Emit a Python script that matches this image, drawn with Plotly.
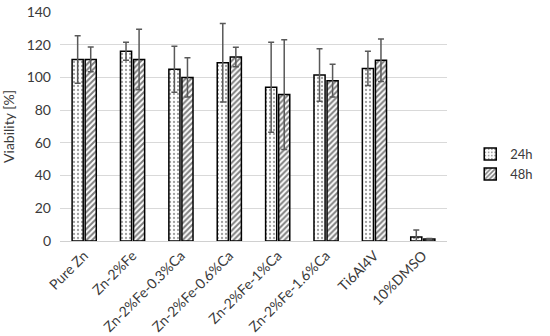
import plotly.graph_objects as go

categories = ["Pure Zn", "Zn-2%Fe", "Zn-2%Fe-0.3%Ca", "Zn-2%Fe-0.6%Ca",
              "Zn-2%Fe-1%Ca", "Zn-2%Fe-1.6%Ca", "Ti6Al4V", "10%DMSO"]
v24 = [111, 116, 105, 109, 94, 101.5, 105.5, 2.5]
e24 = [14.5, 5.5, 14, 24, 27.5, 16, 10.5, 4.2]
v48 = [111, 111, 100, 112.5, 89.5, 98, 110.5, 1.2]
e48 = [7.6, 18.5, 12, 6, 33.5, 10, 13, 0.4]

font = "Lato, 'Open Sans', sans-serif"
txt = "#3a3a3a"
err_style = dict(type="data", visible=True, color="#595959", thickness=1.5, width=3)

fig = go.Figure()
fig.add_trace(go.Bar(
    name="24h", x=categories, y=v24,
    error_y=dict(array=e24, **err_style),
    marker=dict(color="white", line=dict(color="black", width=1.5),
                pattern=dict(shape=".", fgcolor="#404040", bgcolor="white", size=4, solidity=0.25)),
))
fig.add_trace(go.Bar(
    name="48h", x=categories, y=v48,
    error_y=dict(array=e48, **err_style),
    marker=dict(color="white", line=dict(color="black", width=1.5),
                pattern=dict(shape="/", fgcolor="black", bgcolor="white", size=4, solidity=0.5)),
))

fig.update_layout(
    width=550, height=336,
    margin=dict(l=60, r=87, t=12, b=95),
    paper_bgcolor="white", plot_bgcolor="white",
    barmode="group", bargap=0.46, bargroupgap=0.15,
    font=dict(family=font, size=14, color=txt),
    legend=dict(x=1.06, y=0.336, xanchor="left", yanchor="middle",
                font=dict(size=13, color=txt), itemwidth=30),
    xaxis=dict(tickangle=-45, showline=True, linecolor="#d0d0d0", linewidth=1,
               automargin=False, ticks="", ticklen=0,
               tickfont=dict(size=14, color=txt)),
    yaxis=dict(range=[0, 140], dtick=20, showgrid=True, gridcolor="#d9d9d9",
               zeroline=False, showline=False, ticks="", automargin=False,
               ticklabelstandoff=8, ticklabeloverflow="allow",
               title=dict(text="Viability [%]", font=dict(size=14, color=txt), standoff=8),
               tickfont=dict(size=14, color=txt)),
)

# remove the default 8px page margin so the figure fills the window exactly
fig.write_html("out.html", config={"displayModeBar": False},
               post_script="document.body.style.margin='0';document.body.style.padding='0';")
